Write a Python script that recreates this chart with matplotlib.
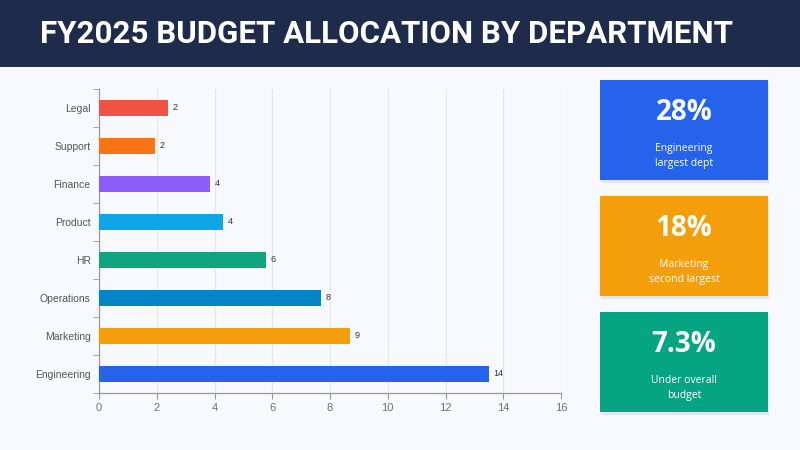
import matplotlib
matplotlib.use("Agg")
import matplotlib.pyplot as plt
from matplotlib.patches import Rectangle
import numpy as np

departments = ["Engineering", "Marketing", "Operations", "HR", "Product", "Finance", "Support", "Legal"]
budget = [13.5, 8.7, 7.7, 5.8, 4.3, 3.85, 1.95, 2.4]
bar_colors = ["#2563EB", "#F59E0B", "#0284C7", "#0FA37F", "#0EA5E9", "#8B5CF6", "#F97316", "#EF5344"]
x_ticks = [0, 2, 4, 6, 8, 10, 12, 14, 16]

card_values = ["28%", "18%", "7.3%"]
card_labels = ["Engineering\nlargest dept", "Marketing\nsecond largest", "Under overall\nbudget"]
card_colors = ["#2563EB", "#F59E0B", "#06A482"]

title = "FY2025 BUDGET ALLOCATION BY DEPARTMENT"

W, H = 800, 450
fig = plt.figure(figsize=(8, 4.5), dpi=100)
fig.patch.set_facecolor("#F8F9FD")

# header band
fig.add_artist(Rectangle((0, 1 - 67 / H), 1, 67 / H, transform=fig.transFigure,
                         facecolor="#1E2B4B", edgecolor="none", zorder=0))
fig.text(40 / W, 1 - 34 / H, title, color="white", fontsize=22.5, fontweight="bold",
         family=["Roboto", "DejaVu Sans"], va="center", ha="left")

ax = fig.add_axes([99 / W, 1 - 393 / H, (561 - 99) / W, (393 - 89) / H])
ax.set_facecolor("#F8F9FD")
y = np.arange(len(departments))
ax.barh(y, budget, height=0.4, color=bar_colors, zorder=3)
for yi, v in zip(y, budget):
    ax.text(v + 0.15, yi, f"{round(v)}", va="center", ha="left", fontsize=6.5, color="#333333",
            family=["Liberation Sans", "DejaVu Sans"], zorder=4)

ax.set_xlim(0, 16)
ax.set_ylim(-0.5, len(departments) - 0.5)
ax.set_xticks(x_ticks)
ax.set_xticklabels([str(t) for t in x_ticks], fontsize=8, color="#707070",
                   family=["Liberation Sans", "DejaVu Sans"])
ax.set_yticks(y)
ax.set_yticklabels(departments, fontsize=7.5, color="#555555",
                   family=["Liberation Sans", "DejaVu Sans"])
ax.set_yticks(np.arange(-0.5, len(departments), 1), minor=True)
ax.tick_params(axis="y", which="major", length=0, pad=6)
ax.tick_params(axis="y", which="minor", length=4, color="#999999", direction="out")
ax.tick_params(axis="x", length=4, color="#999999", pad=3)
ax.grid(axis="x", color="#E4E6EC", linewidth=0.8, zorder=0)
for s in ["top", "right"]:
    ax.spines[s].set_visible(False)
for s in ["left", "bottom"]:
    ax.spines[s].set_color("#999999")
    ax.spines[s].set_linewidth(0.9)

# KPI cards
card_tops = [80, 196, 312]
cx0, cx1, ch = 600, 768, 100
for top, val, lab, col in zip(card_tops, card_values, card_labels, card_colors):
    fig.add_artist(Rectangle(((cx0 + 1) / W, 1 - (top + ch + 3) / H), (cx1 - cx0) / W, ch / H,
                             transform=fig.transFigure, facecolor="#E2E5EE", edgecolor="none",
                             zorder=1))
    fig.add_artist(Rectangle((cx0 / W, 1 - (top + ch) / H), (cx1 - cx0) / W, ch / H,
                             transform=fig.transFigure, facecolor=col, edgecolor="none", zorder=2))
    cxm = (cx0 + cx1) / 2 / W
    fig.text(cxm, 1 - (top + 33) / H, val, color="white", fontsize=20, fontweight="bold",
             family=["Open Sans", "DejaVu Sans"], ha="center", va="center", zorder=3)
    fig.text(cxm, 1 - (top + 76) / H, lab, color="white", fontsize=7.5,
             family=["Open Sans", "DejaVu Sans"], ha="center", va="center", linespacing=1.5,
             zorder=3)

fig.savefig("out.png", dpi=100, facecolor=fig.get_facecolor())
